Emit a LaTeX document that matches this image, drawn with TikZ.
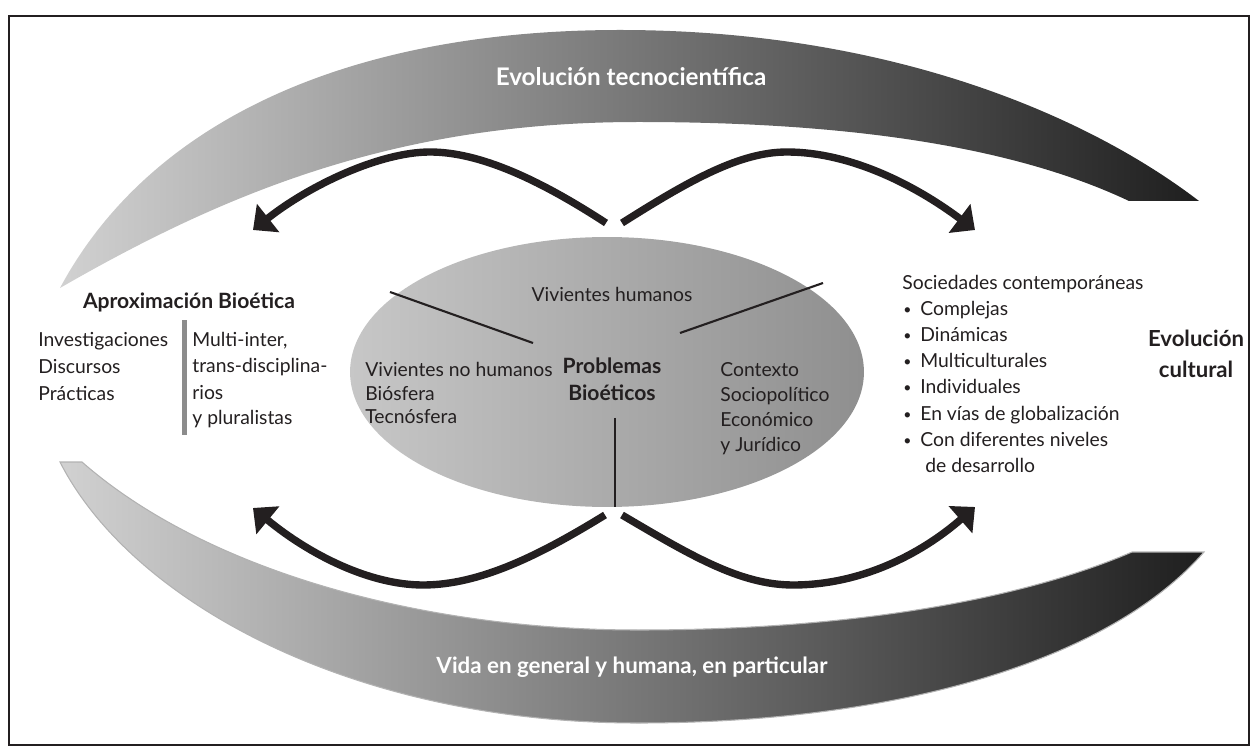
\documentclass[tikz,border=0pt]{standalone}
\usepackage{fontspec}
\setmainfont{Lato}
\usetikzlibrary{arrows.meta,shapes.geometric}
\definecolor{ink}{HTML}{231F20}
\definecolor{barcol}{HTML}{8C8C8C}
\begin{document}
\begin{tikzpicture}[x=0.02cm,y=-0.02cm,
  txt/.style={inner sep=0pt, text=ink, anchor=base west, font=\fontsize{11}{13}\selectfont},
  ctxt/.style={txt, anchor=base},
  bultxt/.style={inner sep=0pt, text=ink, anchor=base west, font=\fontsize{8}{9}\selectfont},
  btxt/.style={inner sep=0pt, text=ink, anchor=base, font=\fontsize{12}{14}\selectfont\bfseries},
  bigbtxt/.style={btxt, font=\fontsize{12.6}{15}\selectfont\bfseries},
  wtitle/.style={inner sep=0pt, text=white, anchor=base, font=\fontsize{13.2}{15}\selectfont\bfseries},
  band/.style={left color=black!18, right color=black!88},
  bigarrow/.style={draw=ink, line width=4.2pt, -{Triangle[length=11pt,width=20pt]}},
  divline/.style={draw=ink, line width=1.2pt}
]
\useasboundingbox (0,0) rectangle (1251,746);
% frame
\draw[line width=1.3pt, ink] (9,16) rectangle (1249,745);

% top band
\path[band] (60,288) .. controls (150,120) and (350,30) .. (620,30)
  .. controls (880,30) and (1080,110) .. (1199,201) -- (1129,201)
  .. controls (1000,140) and (820,122) .. (638,122)
  .. controls (400,122) and (230,190) .. (60,288) -- cycle;
\node[wtitle, font=\fontsize{13.8}{15}\selectfont\bfseries] (tecno) at (631,86) {Evolución tecnocientífica};

% bottom band
\path[band, draw=black!30, line width=0.6pt] (60,462) -- (82,462)
  .. controls (205,570) and (420,630) .. (638,630)
  .. controls (850,630) and (1020,600) .. (1132,552) -- (1204,552)
  .. controls (1110,660) and (900,723) .. (638,723)
  .. controls (350,723) and (130,600) .. (60,462) -- cycle;
\node[wtitle, font=\fontsize{12.7}{15}\selectfont\bfseries] (vida) at (632,673) {Vida en general y humana, en particular};

% central ellipse
\node[ellipse, draw=none, inner sep=0pt, minimum width=10.28cm, minimum height=5.4cm,
  left color=black!22, right color=black!44] (ell) at (607,372) {};
\coordinate (l1a) at (390,292); \coordinate (l1b) at (533,343);
\coordinate (l2a) at (823,283); \coordinate (l2b) at (680,333);
\coordinate (l3a) at (615,418); \coordinate (l3b) at (615,507);
\draw[divline] (l1a) -- (l1b);
\draw[divline] (l2a) -- (l2b);
\draw[divline] (l3a) -- (l3b);

\node[ctxt] (vh) at (612,302) {Vivientes humanos};
\foreach \t [count=\i] in {Vivientes no humanos, Biósfera, Tecnósfera}
  \node[txt] (vnh\i) at (365,{377+23*(\i-1)}) {\t};
\node[btxt] (pb1) at (612,374) {Problemas};
\node[btxt] (pb2) at (612,400) {Bioéticos};
\foreach \t [count=\i] in {Contexto, Sociopolítico, Económico, y Jurídico}
  \node[txt] (ctx\i) at (720,{377+25*(\i-1)}) {\t};

% left block
\node[btxt] (aprox) at (189,309) {Aproximación Bioética};
\foreach \t [count=\i] in {Investigaciones, Discursos, Prácticas}
  \node[txt] (inv\i) at (38,{347+26.5*(\i-1)}) {\t};
\fill[barcol] (182,320) rectangle (187,435);
\foreach \t [count=\i] in {Multi-inter{,}, trans-disciplina-, rios, y pluralistas}
  \node[txt] (mul\i) at (192,{347+26*(\i-1)}) {\t};

% right block
\node[txt] (soc) at (902,290) {Sociedades contemporáneas};
\foreach \t [count=\i] in {Complejas, Dinámicas, Multiculturales, Individuales, En vías de globalización, Con diferentes niveles}
{
  \node[bultxt] (bul\i) at (903,{289+26*\i}) {•};
  \node[txt] (soc\i) at (920,{290+26*\i}) {\t};
}
\node[txt] (soc7) at (925,472) {de desarrollo};
\node[bigbtxt] (evc1) at (1196,347) {Evolución};
\node[bigbtxt] (evc2) at (1196,378) {cultural};

% arrows
\coordinate (tlS) at (606,223); \coordinate (tlP) at (430,152); \coordinate (tlE) at (253,230);
\coordinate (trS) at (622,223); \coordinate (trP) at (787,152); \coordinate (trE) at (975,230);
\coordinate (blS) at (605,515); \coordinate (blP) at (423,585); \coordinate (blE) at (253,508);
\coordinate (brS) at (622,515); \coordinate (brP) at (793,585); \coordinate (brE) at (975,507);
\draw[bigarrow] (tlS) .. controls (540,180) and (480,152) .. (tlP) .. controls (380,152) and (310,185) .. (tlE);
\draw[bigarrow] (trS) .. controls (690,180) and (740,152) .. (trP) .. controls (850,152) and (915,185) .. (trE);
\draw[bigarrow] (blS) .. controls (540,555) and (480,585) .. (blP) .. controls (370,585) and (310,555) .. (blE);
\draw[bigarrow] (brS) .. controls (690,555) and (740,585) .. (brP) .. controls (860,585) and (920,555) .. (brE);
\end{tikzpicture}
\end{document}
